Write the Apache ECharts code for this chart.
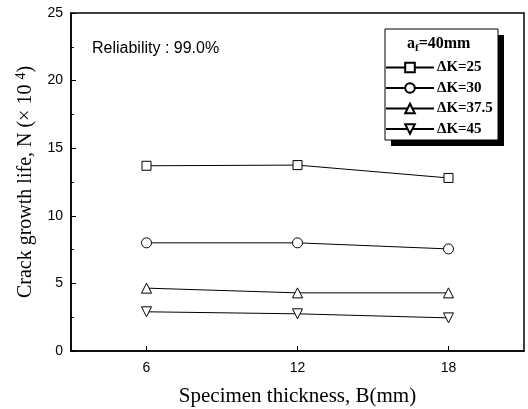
<!DOCTYPE html>
<html><head><meta charset="utf-8">
<script src="https://cdn.jsdelivr.net/npm/echarts@6/dist/echarts.min.js"></script>
<style>html,body{margin:0;padding:0;background:#fff}#c{width:528px;height:409px}</style>
</head><body><div id="c"></div>
<script>
const thickness = [6, 12, 18];
const xTicks = [6, 12, 18];
const seriesNames = ['\u0394K=25', '\u0394K=30', '\u0394K=37.5', '\u0394K=45'];
const dk25 = [13.7, 13.75, 12.8];
const dk30 = [8.0, 8.0, 7.55];
const dk375 = [4.65, 4.3, 4.3];
const dk45 = [2.9, 2.75, 2.45];
const symbols = ['rect', 'circle', 'triangle', 'path://M0,0 L10,0 L5,9 Z'];
const values = [dk25, dk30, dk375, dk45];

const serif = 'Liberation Serif, Times New Roman, serif';
const sans = 'Liberation Sans, Arial, sans-serif';
const chart = echarts.init(document.getElementById('c'));
chart.setOption({
  animation: false,
  backgroundColor: '#fff',
  title: {
    text: 'Reliability : 99.0%', left: 92, top: 41, padding: 0,
    textStyle: {fontFamily: sans, fontSize: 16, fontWeight: 'normal', color: '#000'}
  },
  grid: {left: 71, right: 4, top: 13, bottom: 58, show: true, borderColor: '#000', borderWidth: 1.5,
    outerBoundsMode: 'none', containLabel: false},
  legend: {
    left: 385, top: 60, orient: 'vertical',
    data: seriesNames,
    itemWidth: 48, itemHeight: 12, itemGap: 5.5,
    padding: 0, z: 10,
    textStyle: {fontFamily: serif, fontSize: 15, fontWeight: 'bold', color: '#000', padding: [0,0,0,-2]}
  },
  graphic: [
    {type: 'rect', shape: {x: 391, y: 35, width: 113, height: 111}, style: {fill: '#000'}, z: 5},
    {type: 'rect', shape: {x: 385, y: 29, width: 113, height: 111}, style: {fill: '#fff', stroke: '#000', lineWidth: 1}, z: 6},
    {
      type: 'text', left: 407, top: 36, z: 20,
      style: {
        text: '{a|a}{s|f}{a|=40mm}',
        rich: {
          a: {fontFamily: serif, fontSize: 16, fontWeight: 'bold', fill: '#000'},
          s: {fontFamily: serif, fontSize: 11, fontWeight: 'bold', fill: '#000', verticalAlign: 'bottom', padding: [8,0,0,0]}
        }
      }
    }
  ],
  xAxis: {
    type: 'value', min: 3, max: 21,
    name: 'Specimen thickness, B(mm)', nameLocation: 'middle', nameGap: 35,
    nameTextStyle: {fontFamily: serif, fontSize: 21, color: '#000'},
    axisLine: {lineStyle: {color: '#000', width: 1.5}},
    axisTick: {inside: true, length: 5, customValues: xTicks, lineStyle: {color: '#000'}},
    axisLabel: {customValues: xTicks, fontFamily: sans, fontSize: 14, color: '#000', margin: 10},
    splitLine: {show: false}
  },
  yAxis: {
    type: 'value', min: 0, max: 25, interval: 5,
    name: 'Crack growth life, N (\u00d7 10 {sup|4})', nameLocation: 'middle', nameGap: 33,
    nameTextStyle: {fontFamily: serif, fontSize: 20, color: '#000',
      rich: {sup: {fontFamily: serif, fontSize: 14, color: '#000', verticalAlign: 'top', padding: [0,0,10,0]}}},
    axisLine: {lineStyle: {color: '#000', width: 1.5}},
    axisTick: {inside: true, length: 5, lineStyle: {color: '#000'}},
    minorTick: {show: true, splitNumber: 2, length: 3, lineStyle: {color: '#000'}},
    axisLabel: {fontFamily: sans, fontSize: 14, color: '#000', margin: 8},
    splitLine: {show: false}
  },
  series: values.map((v, i) => ({
    type: 'line', name: seriesNames[i],
    data: thickness.map((x, j) => [x, v[j]]),
    symbol: symbols[i], symbolSize: i === 0 ? 9 : 10,
    itemStyle: {color: '#fff', borderColor: '#000', borderWidth: 1},
    lineStyle: {color: '#000', width: 1}
  }))
});
</script></body></html>
